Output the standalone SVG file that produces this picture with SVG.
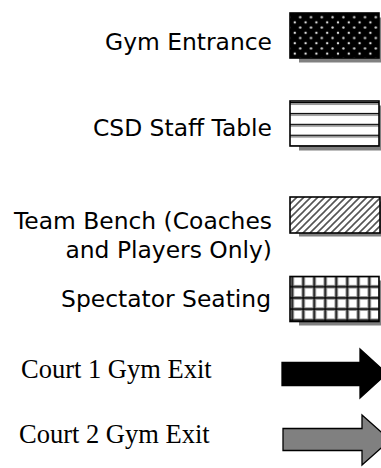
<svg xmlns="http://www.w3.org/2000/svg" width="381" height="468" viewBox="0 0 381 468">
<style>
.lbl{font-family:"DejaVu Sans","Verdana",sans-serif;font-size:23.4px;fill:#000;text-anchor:end}
.ser{font-family:"Liberation Serif","Times New Roman",serif;font-size:26.5px;fill:#000}
.shadow{fill:#808080}
.box{stroke:#000;stroke-width:1.6}
</style>
<defs>
<pattern id="dots" patternUnits="userSpaceOnUse" x="284" y="12" width="10.8" height="10.4">
<rect width="10.8" height="10.4" fill="#000"/>
<circle cx="0" cy="0" r="1.2" fill="#ddd"/>
<circle cx="10.8" cy="0" r="1.2" fill="#ddd"/>
<circle cx="0" cy="10.4" r="1.2" fill="#ddd"/>
<circle cx="10.8" cy="10.4" r="1.2" fill="#ddd"/>
<circle cx="5.4" cy="5.2" r="1.2" fill="#ddd"/>
</pattern>
<pattern id="stripes" patternUnits="userSpaceOnUse" x="0" y="102" width="10" height="10.9">
<rect width="10" height="10.9" fill="#fff"/>
<rect y="0" width="10" height="1.4" fill="#000"/>
<rect y="1.4" width="10" height="1.6" fill="#999"/>
</pattern>
<pattern id="hatch" patternUnits="userSpaceOnUse" x="290" y="197" width="7" height="7">
<rect width="7" height="7" fill="#fff"/>
<path d="M-1,8 L8,-1 M-1,1 L1,-1 M6,8 L8,6" stroke="#555" stroke-width="1.6"/>
</pattern>
<pattern id="grid" patternUnits="userSpaceOnUse" x="281.3" y="275.5" width="11" height="11.2">
<rect width="11" height="11.2" fill="#fff"/>
<path d="M11,0 V11.2 M0,11.2 H11" stroke="#999" stroke-width="3.6"/>
<path d="M0,0 V11.2 M0,0 H11" stroke="#999" stroke-width="3.6"/>
<path d="M11,0 V11.2 M0,11.2 H11 M0,0 V11.2 M0,0 H11" stroke="#000" stroke-width="1.4"/>
</pattern>
</defs>

<g id="gym-entrance">
<rect class="shadow" x="299" y="17.5" width="89" height="45"/>
<rect class="box" x="290" y="13" width="89" height="45" fill="url(#dots)"/>
<text class="lbl" x="272" y="49.5">Gym Entrance</text>
</g>

<g id="csd-staff-table">
<rect class="shadow" x="299" y="105.5" width="89" height="45"/>
<rect class="box" x="290" y="101" width="89" height="45" fill="url(#stripes)"/>
<text class="lbl" x="272" y="136">CSD Staff Table</text>
</g>

<g id="team-bench">
<rect class="shadow" x="299" y="201.5" width="90" height="35"/>
<rect class="box" x="290" y="197" width="90" height="36" fill="url(#hatch)"/>
<text class="lbl" x="272" y="229">Team Bench (Coaches</text>
<text class="lbl" x="272" y="258">and Players Only)</text>
</g>

<g id="spectator-seating">
<rect class="shadow" x="299" y="280.5" width="89" height="45"/>
<rect class="box" x="290" y="276.5" width="89" height="45" fill="url(#grid)"/>
<text class="lbl" x="271" y="307">Spectator Seating</text>
</g>

<g id="court1-exit">
<path d="M282,362.5 H360 V349 L387,373.5 L360,398 V385.5 H282 Z" fill="#000" stroke="#000" stroke-width="1.3"/>
<text class="ser" x="21" y="378">Court 1 Gym Exit</text>
</g>

<g id="court2-exit">
<path d="M283,428.5 H362 V415 L390,440 L362,465 V450.5 H283 Z" fill="#808080" stroke="#000" stroke-width="1.3"/>
<text class="ser" x="19" y="443">Court 2 Gym Exit</text>
</g>

<g id="connectors"></g>
</svg>
